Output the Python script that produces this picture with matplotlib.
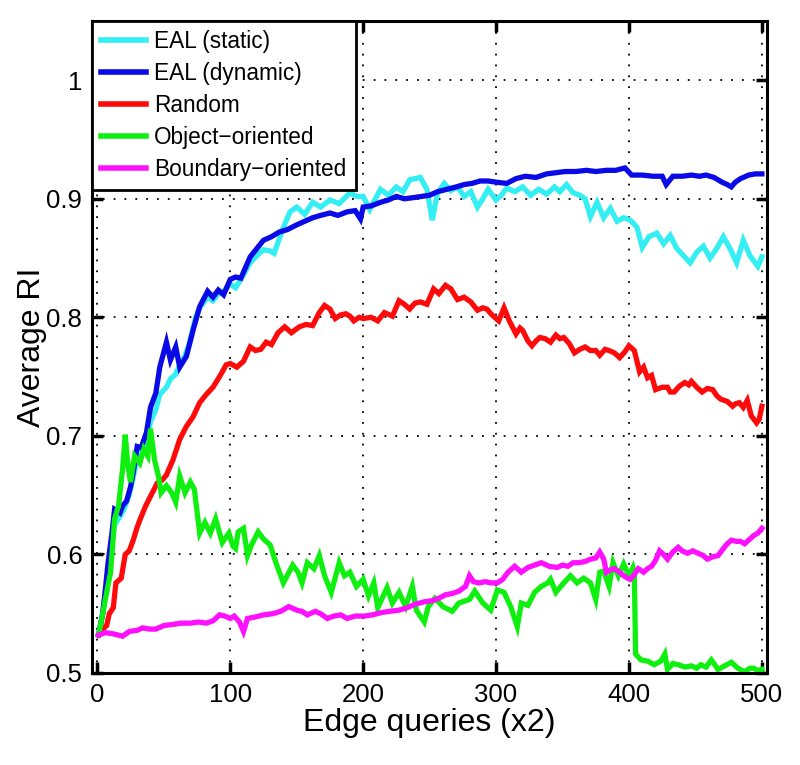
import matplotlib
matplotlib.use("Agg")
import matplotlib.pyplot as plt
from matplotlib.ticker import FixedLocator, FuncFormatter

plt.rcParams['font.family'] = ['Liberation Sans', 'DejaVu Sans']

# ---------------- data ----------------
static_x = [1,5,7,10,13,17,20,24,27,30,33,37,40,44,47,52,55,59,62,66,69,74,77,83,87,91,95,100,104,108,115,120,125,130,133,140,145,150,156,162,168,175,182,190,195,200,205,213,219,225,230,235,243,248,252,256,261,266,271,276,281,286,290,294,300,304,308,314,320,326,332,338,344,348,353,358,363,367,371,376,381,386,391,396,401,406,410,415,421,426,431,436,441,446,451,456,461,466,471,476,481,486,491,497,500]
static_y = [0.533,0.555,0.575,0.600,0.625,0.632,0.638,0.650,0.665,0.680,0.686,0.695,0.712,0.722,0.735,0.741,0.748,0.752,0.760,0.768,0.777,0.800,0.808,0.817,0.814,0.820,0.822,0.828,0.825,0.832,0.846,0.852,0.857,0.856,0.854,0.876,0.889,0.893,0.887,0.897,0.893,0.899,0.896,0.905,0.902,0.902,0.891,0.908,0.903,0.910,0.906,0.916,0.918,0.908,0.882,0.905,0.913,0.907,0.910,0.902,0.906,0.893,0.900,0.908,0.899,0.903,0.909,0.906,0.910,0.903,0.908,0.904,0.910,0.906,0.912,0.905,0.903,0.900,0.885,0.897,0.884,0.892,0.881,0.884,0.882,0.876,0.859,0.868,0.871,0.862,0.869,0.858,0.852,0.846,0.855,0.860,0.850,0.858,0.868,0.858,0.846,0.865,0.852,0.843,0.851]

dynamic_x = [1,4,6,8,11,13,17,19,22,25,27,30,33,37,40,44,47,52,55,59,62,67,72,77,83,87,91,95,100,104,108,115,120,125,131,137,143,150,156,162,168,175,181,188,194,198,200,206,213,219,225,231,238,244,250,256,263,270,276,282,288,294,300,308,315,322,330,338,345,352,360,368,375,383,390,397,402,410,418,425,428,433,440,447,453,458,464,470,474,477,480,484,490,495,500]
dynamic_y = [0.532,0.550,0.570,0.592,0.618,0.638,0.635,0.641,0.645,0.657,0.669,0.691,0.690,0.703,0.724,0.736,0.758,0.779,0.764,0.775,0.758,0.767,0.789,0.809,0.822,0.817,0.823,0.819,0.832,0.834,0.833,0.851,0.858,0.865,0.868,0.872,0.874,0.878,0.881,0.884,0.886,0.888,0.886,0.889,0.890,0.883,0.893,0.894,0.897,0.899,0.902,0.900,0.901,0.902,0.903,0.906,0.908,0.910,0.912,0.913,0.915,0.915,0.914,0.913,0.917,0.919,0.918,0.921,0.922,0.923,0.923,0.924,0.923,0.924,0.924,0.926,0.920,0.920,0.919,0.919,0.912,0.919,0.919,0.920,0.919,0.920,0.918,0.914,0.912,0.910,0.914,0.917,0.920,0.921,0.921]

random_x = [1,4,7,9,12,14,18,21,24,27,30,32,36,40,45,49,52,57,62,67,72,77,82,87,92,97,100,105,110,115,119,123,127,131,136,141,146,152,157,162,167,171,175,179,183,187,190,193,197,200,206,211,216,222,227,231,235,239,243,248,253,257,262,266,271,276,281,286,290,293,297,300,302,306,310,315,318,320,324,327,330,333,337,341,345,348,351,355,359,363,367,371,375,378,382,385,389,393,397,400,404,408,411,414,417,420,425,429,431,434,438,442,445,447,451,455,459,463,466,469,474,478,480,483,486,489,492,496,498,500]
random_y = [0.532,0.537,0.540,0.550,0.555,0.576,0.580,0.600,0.603,0.612,0.623,0.629,0.640,0.649,0.660,0.663,0.667,0.680,0.697,0.708,0.716,0.728,0.735,0.741,0.750,0.760,0.761,0.758,0.763,0.775,0.772,0.773,0.779,0.777,0.787,0.792,0.787,0.792,0.794,0.793,0.804,0.810,0.807,0.799,0.802,0.803,0.801,0.797,0.800,0.799,0.800,0.797,0.804,0.801,0.814,0.811,0.807,0.812,0.813,0.811,0.824,0.820,0.827,0.824,0.815,0.817,0.813,0.806,0.808,0.807,0.802,0.799,0.797,0.808,0.797,0.786,0.791,0.789,0.780,0.776,0.780,0.783,0.782,0.779,0.785,0.782,0.783,0.778,0.770,0.773,0.775,0.772,0.772,0.768,0.773,0.772,0.770,0.766,0.771,0.776,0.772,0.754,0.758,0.749,0.751,0.739,0.741,0.741,0.737,0.737,0.742,0.745,0.743,0.746,0.741,0.737,0.740,0.739,0.734,0.731,0.729,0.725,0.727,0.728,0.724,0.730,0.717,0.711,0.714,0.725]

object_x = [1,6,10,13,16,19,21,23,25,28,32,35,38,40,43,46,48,52,56,59,62,66,70,73,77,81,85,89,94,99,102,104,106,110,113,116,121,125,130,135,140,147,151,154,158,163,167,171,176,182,186,190,195,200,204,208,211,218,222,227,232,237,240,246,249,254,260,267,272,280,284,290,296,301,306,311,316,319,324,329,334,339,341,345,351,356,361,366,371,375,378,381,385,388,392,396,400,403,404,405,409,414,419,424,427,429,433,437,442,447,451,454,458,462,467,472,477,482,487,491,494,497,500]
object_y = [0.532,0.562,0.585,0.630,0.641,0.672,0.701,0.675,0.661,0.683,0.677,0.689,0.683,0.706,0.680,0.666,0.652,0.658,0.652,0.644,0.666,0.652,0.661,0.655,0.618,0.627,0.618,0.630,0.610,0.618,0.607,0.605,0.619,0.622,0.599,0.608,0.619,0.613,0.608,0.591,0.576,0.591,0.585,0.576,0.593,0.588,0.599,0.582,0.568,0.593,0.582,0.585,0.573,0.579,0.565,0.576,0.555,0.572,0.559,0.568,0.556,0.573,0.553,0.543,0.556,0.563,0.556,0.552,0.559,0.562,0.569,0.559,0.553,0.570,0.568,0.556,0.539,0.559,0.557,0.568,0.573,0.576,0.579,0.568,0.576,0.582,0.576,0.580,0.576,0.562,0.585,0.586,0.573,0.593,0.582,0.592,0.582,0.589,0.585,0.516,0.511,0.510,0.507,0.510,0.516,0.503,0.508,0.507,0.505,0.506,0.504,0.507,0.505,0.511,0.503,0.506,0.509,0.504,0.501,0.504,0.504,0.502,0.503]

boundary_x = [1,6,12,19,24,30,34,40,44,50,57,63,70,76,82,87,92,96,100,103,107,110,113,118,125,132,138,144,150,154,158,164,168,173,178,183,188,194,201,207,214,220,227,233,239,246,252,257,262,267,272,277,280,283,287,292,296,301,305,309,314,319,324,329,334,340,346,350,354,358,362,367,371,375,378,381,383,386,389,393,396,399,401,404,407,411,414,417,420,423,426,429,433,437,440,444,448,452,456,459,463,467,471,474,477,481,484,487,490,494,497,500]
boundary_y = [0.532,0.534,0.533,0.531,0.535,0.536,0.538,0.537,0.537,0.540,0.541,0.542,0.542,0.543,0.542,0.544,0.549,0.548,0.546,0.548,0.543,0.535,0.546,0.547,0.549,0.550,0.552,0.556,0.553,0.552,0.549,0.552,0.550,0.546,0.548,0.549,0.546,0.548,0.548,0.549,0.551,0.552,0.553,0.555,0.558,0.560,0.561,0.563,0.566,0.567,0.569,0.573,0.582,0.577,0.576,0.577,0.576,0.576,0.579,0.585,0.590,0.585,0.589,0.591,0.593,0.590,0.589,0.591,0.590,0.593,0.593,0.594,0.596,0.597,0.602,0.596,0.585,0.587,0.588,0.585,0.582,0.580,0.579,0.583,0.588,0.585,0.588,0.590,0.595,0.603,0.600,0.596,0.602,0.606,0.603,0.601,0.603,0.601,0.599,0.596,0.598,0.599,0.605,0.609,0.612,0.611,0.611,0.609,0.612,0.616,0.618,0.622]

labels = ["EAL (static)", "EAL (dynamic)", "Random", "Object\u2212oriented", "Boundary\u2212oriented"]
colors = ["#33eef2", "#0a0ae6", "#ff0a0a", "#10f010", "#ff10ff"]
x_ticks = [0, 100, 200, 300, 400, 500]
y_ticks = [0.5, 0.6, 0.7, 0.8, 0.9, 1.0]

# ---------------- figure ----------------
fig = plt.figure(figsize=(8.0, 7.65), dpi=100)
ax = fig.add_axes([0.115, 0.1203, 0.844, 0.8523])

series = [(static_x, static_y), (dynamic_x, dynamic_y), (random_x, random_y),
          (object_x, object_y), (boundary_x, boundary_y)]
for (xs, ys), lab, col in zip(series, labels, colors):
    ax.plot(xs, ys, color=col, lw=3.8, label=lab, solid_joinstyle='miter')

ax.set_xlim(-4, 504)
ax.set_ylim(0.5, 1.05)
ax.xaxis.set_major_locator(FixedLocator(x_ticks))
ax.yaxis.set_major_locator(FixedLocator(y_ticks))
ax.yaxis.set_major_formatter(FuncFormatter(lambda v, p: "1" if abs(v - 1) < 1e-9 else f"{v:.1f}"))

ax.grid(True, color='black', linestyle=(0, (1, 5)), linewidth=1.3)
ax.tick_params(direction='in', length=8, width=2.5, top=True, right=True,
               labelsize=18.5, pad=7, colors='black')
for s in ax.spines.values():
    s.set_linewidth(2.2)

ax.set_xlabel("Edge queries (x2)", fontsize=23, labelpad=1)
ax.set_ylabel("Average RI", fontsize=23)
ax.yaxis.set_label_coords(-0.066, 0.5)

leg = ax.legend(loc='upper left', borderaxespad=0, fontsize=16.3, handlelength=2.0,
                handletextpad=0.35, labelspacing=0.4, borderpad=0.4, fancybox=False,
                framealpha=1, edgecolor='black')
leg.get_frame().set_linewidth(2.0)
for l in leg.get_lines():
    l.set_linewidth(4)

fig.savefig("out.png", dpi=100)
